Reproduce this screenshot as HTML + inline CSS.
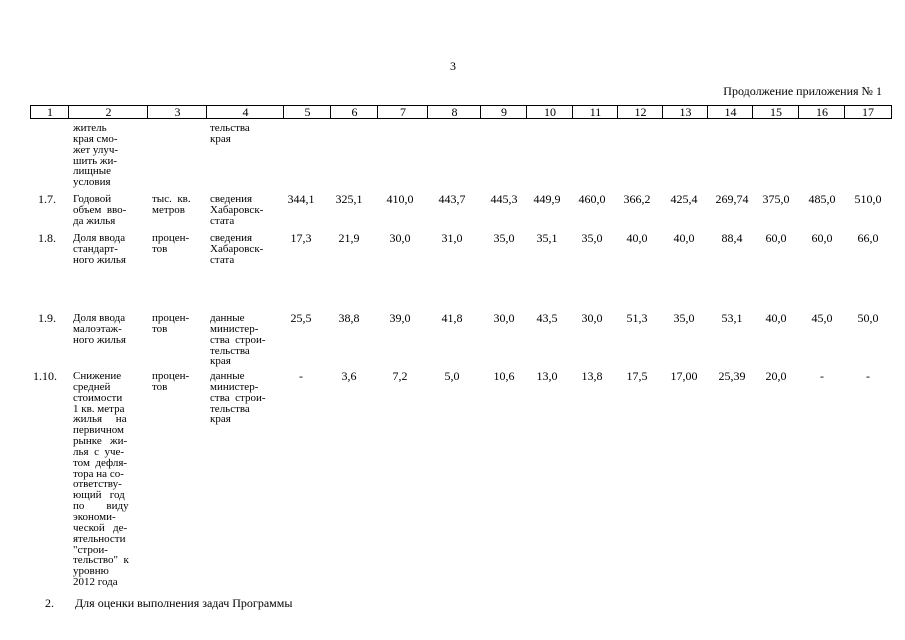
<!DOCTYPE html>
<html><head><meta charset="utf-8"><style>
body{margin:0;width:905px;height:640px;background:#fff;position:relative;overflow:hidden;font-family:"Liberation Serif","DejaVu Serif",serif;font-size:11px;color:#000}
.a{position:absolute;white-space:pre;line-height:10.85px}
.n{position:absolute;width:50px;text-align:center;line-height:10.85px}
.h{position:absolute;top:105px;height:14px;border-top:1px solid #000;border-bottom:1px solid #000;border-left:1px solid #000;text-align:center;line-height:12px;box-sizing:border-box;font-size:12px}
</style></head><body>
<div class="a" style="left:450px;top:61px;font-size:12px">3</div>
<div class="a" style="right:23px;top:86px;font-size:12px">Продолжение приложения № 1</div>
<div id="hdr"></div>
<div class="a" style="left:73px;top:123px">житель
края смо-
жет улуч-
шить жи-
лищные
условия</div>
<div class="a" style="left:210px;top:123px">тельства
края</div>

<div class="a" style="left:38px;top:194px;font-size:12px">1.7.</div>
<div class="a" style="left:73px;top:194px">Годовой
объем  вво-
да жилья</div>
<div class="a" style="left:152px;top:194px">тыс.  кв.
метров</div>
<div class="a" style="left:210px;top:194px">сведения
Хабаровск-
стата</div>

<div class="a" style="left:38px;top:233px;font-size:12px">1.8.</div>
<div class="a" style="left:73px;top:233px">Доля ввода
стандарт-
ного жилья</div>
<div class="a" style="left:152px;top:233px">процен-
тов</div>
<div class="a" style="left:210px;top:233px">сведения
Хабаровск-
стата</div>

<div class="a" style="left:38px;top:313px;font-size:12px">1.9.</div>
<div class="a" style="left:73px;top:313px">Доля ввода
малоэтаж-
ного жилья</div>
<div class="a" style="left:152px;top:313px">процен-
тов</div>
<div class="a" style="left:210px;top:313px">данные
министер-
ства  строи-
тельства
края</div>

<div class="a" style="left:33px;top:371px;font-size:12px">1.10.</div>
<div class="a" style="left:73px;top:371px">Снижение
средней
стоимости
1 кв. метра
жилья     на
первичном
рынке   жи-
лья  с  уче-
том  дефля-
тора на со-
ответству-
ющий   год
по        виду
экономи-
ческой   де-
ятельности
"строи-
тельство"  к
уровню
2012 года</div>
<div class="a" style="left:152px;top:371px">процен-
тов</div>
<div class="a" style="left:210px;top:371px">данные
министер-
ства  строи-
тельства
края</div>

<div class="a" style="left:45px;top:598px;font-size:12px">2.</div>
<div class="a" style="left:75px;top:598px;font-size:12px">Для оценки выполнения задач Программы</div>

<div id="nums"></div>
<script>
var xs=[30,68,147,206,283,330,377,427,480,526,572,617,662,707,752,798,844,891];
var h='';
for(var i=0;i<17;i++){h+='<div class="h" style="left:'+xs[i]+'px;width:'+(xs[i+1]-xs[i]+1)+'px;'+(i==16?'border-right:1px solid #000;':'')+'">'+(i+1)+'</div>';}
document.getElementById('hdr').innerHTML=h;
var cx=[301,349,400,452,504,547,592,637,684,732,776,822,868];
var rows=[[194,['344,1','325,1','410,0','443,7','445,3','449,9','460,0','366,2','425,4','269,74','375,0','485,0','510,0']],
[233,['17,3','21,9','30,0','31,0','35,0','35,1','35,0','40,0','40,0','88,4','60,0','60,0','66,0']],
[313,['25,5','38,8','39,0','41,8','30,0','43,5','30,0','51,3','35,0','53,1','40,0','45,0','50,0']],
[371,['-','3,6','7,2','5,0','10,6','13,0','13,8','17,5','17,00','25,39','20,0','-','-']]];
var n='';
rows.forEach(function(r){r[1].forEach(function(v,j){n+='<div class="n" style="left:'+(cx[j]-25)+'px;top:'+r[0]+'px;font-size:12px">'+v+'</div>';});});
document.getElementById('nums').innerHTML=n;
</script>
</body></html>
